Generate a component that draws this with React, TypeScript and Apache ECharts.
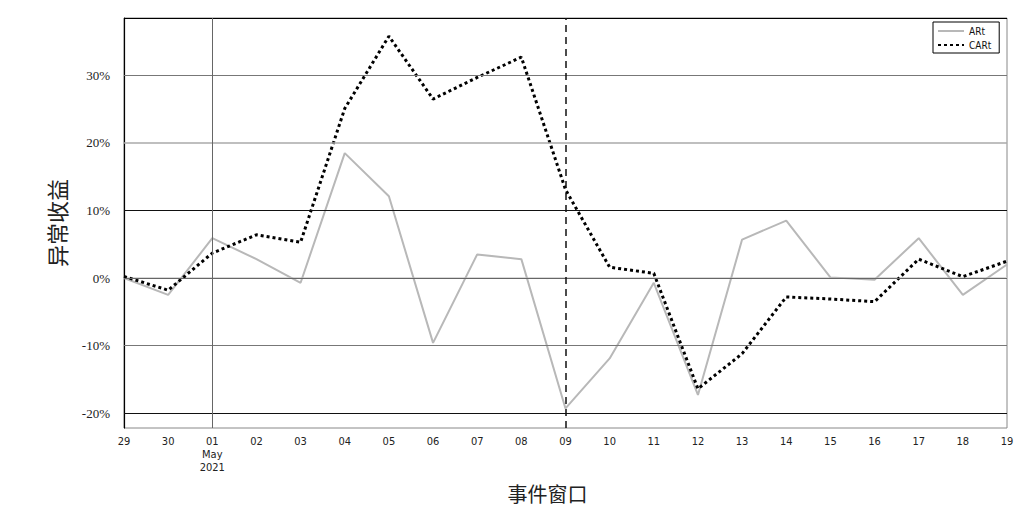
import React, { useEffect, useRef } from "react";
import * as echarts from "echarts";

const categories = ["29", "30", "01", "02", "03", "04", "05", "06", "07", "08", "09", "10", "11", "12", "13", "14", "15", "16", "17", "18", "19"];
const tickLabels = ["29", "30", "01\nMay\n2021", "02", "03", "04", "05", "06", "07", "08", "09", "10", "11", "12", "13", "14", "15", "16", "17", "18", "19"];
const arValues = [0, -2.5, 5.9, 2.8, -0.7, 18.5, 12.1, -9.6, 3.5, 2.8, -19.3, -11.9, -0.7, -17.3, 5.7, 8.5, 0.1, -0.25, 5.9, -2.5, 2.0];
const carValues = [0.24, -1.8, 3.7, 6.4, 5.3, 25.1, 35.8, 26.5, 29.7, 32.7, 13.1, 1.6, 0.7, -16.4, -11.2, -2.8, -3.1, -3.5, 2.8, 0.2, 2.5];
const yTicks = [-20, -10, 0, 10, 20, 30];
const yMin = -22.2;
const yMax = 38.5;
const eventDay = "09";
const monthDay = "01";

const gridColors: Record<string, string> = {
  "-20": "#111",
  "-10": "#777",
  "0": "#666",
  "10": "#111",
  "20": "#aaa",
  "30": "#777",
};

export default function App() {
  const ref = useRef<HTMLDivElement>(null);
  useEffect(() => {
    if (!ref.current) return;
    const chart = echarts.init(ref.current, null, { renderer: "svg" });
    const gridLines: any[] = yTicks.map((v) => ({
      yAxis: v,
      lineStyle: { color: gridColors[String(v)], width: v === 20 ? 1.5 : 1, type: "solid" },
    }));
    gridLines.push({ yAxis: yMax, lineStyle: { color: "#000", width: 1.2, type: "solid" } });
    gridLines.push({ xAxis: categories.indexOf(monthDay), lineStyle: { color: "#666", width: 1, type: "solid" } });
    chart.setOption({
      animation: false,
      backgroundColor: "#fff",
      grid: { left: 124, right: 28, top: 18, bottom: 93, show: true, borderColor: "#888", borderWidth: 1 },
      legend: {
        left: 933,
        top: 22,
        orient: "vertical",
        borderColor: "#000",
        borderWidth: 1,
        padding: [4, 8, 3, 4],
        itemGap: 4,
        itemWidth: 26,
        itemHeight: 10,
        itemStyle: { opacity: 0 },
        textStyle: { fontFamily: "'DejaVu Sans Condensed', 'DejaVu Sans', sans-serif", fontSize: 10, color: "#111" },
        data: ["ARt", "CARt"],
      },
      xAxis: {
        type: "category",
        data: categories,
        boundaryGap: false,
        axisLine: { lineStyle: { color: "#ccc", width: 1.5 } },
        axisTick: { show: false },
        splitLine: { show: false },
        axisLabel: {
          interval: 0,
          margin: 7,
          fontFamily: "'DejaVu Sans Condensed', 'DejaVu Sans', sans-serif",
          fontSize: 11,
          color: "#222",
          lineHeight: 13,
          formatter: (_v: string, i: number) => tickLabels[i],
        },
        name: "事件窗口",
        nameLocation: "middle",
        nameGap: 55,
        nameTextStyle: { fontFamily: "'Noto Sans CJK SC'", fontSize: 20, color: "#222", padding: [0, 36, 0, 0] },
      },
      yAxis: {
        type: "value",
        min: yMin,
        max: yMax,
        axisLine: { show: true, lineStyle: { color: "#000", width: 1.2 } },
        axisTick: { show: false },
        splitLine: { show: false },
        axisLabel: {
          customValues: yTicks,
          margin: 14,
          fontFamily: "'Liberation Serif', 'Times New Roman', serif",
          fontSize: 13,
          color: "#222",
          formatter: (v: number) => `${v}%`,
        },
        name: "异常收益",
        nameLocation: "middle",
        nameGap: 57,
        nameRotate: 90,
        nameTextStyle: { fontFamily: "'Noto Sans CJK SC'", fontSize: 22, color: "#222" },
      },
      series: [
        {
          name: "ARt",
          type: "line",
          data: arValues,
          symbol: "none",
          showSymbol: false,
          lineStyle: { color: "#b8b8b8", width: 2 },
          itemStyle: { color: "#b8b8b8" },
          markLine: {
            silent: true,
            symbol: ["none", "none"],
            label: { show: false },
            data: gridLines,
          },
        },
        {
          name: "CARt",
          type: "line",
          data: carValues,
          symbol: "none",
          showSymbol: false,
          lineStyle: { color: "#000", width: 3, type: [3, 3] },
          itemStyle: { color: "#000" },
          markLine: {
            silent: true,
            symbol: ["none", "none"],
            label: { show: false },
            data: [{ xAxis: categories.indexOf(eventDay), lineStyle: { color: "#111", width: 1.5, type: [7, 5] } }],
          },
        },
      ],
    });
    return () => chart.dispose();
  }, []);
  return <div ref={ref} style={{ position: "fixed", left: 0, top: 0, width: 1035, height: 521 }} />;
}
